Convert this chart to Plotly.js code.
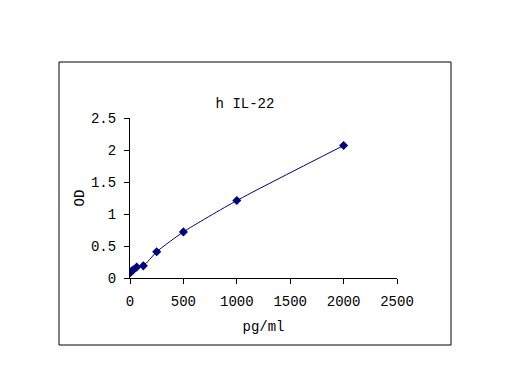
<!DOCTYPE html>
<html><head><meta charset="utf-8">
<script src="https://cdn.plot.ly/plotly-3.0.1.min.js"></script>
<style>html,body{margin:0;padding:0;background:#fff;}#c{width:512px;height:384px;}</style>
</head><body><div id="c"></div>
<script>
const concentration = [0, 15.6, 31.25, 62.5, 125, 250, 500, 1000, 2000];
const od = [0.08, 0.11, 0.13, 0.17, 0.19, 0.41, 0.72, 1.21, 2.07];
const xTicks = [0, 500, 1000, 1500, 2000, 2500];
const yTicks = [0, 0.5, 1, 1.5, 2, 2.5];

const fontFam = '"Liberation Mono", "DejaVu Sans Mono", monospace';
const trace = {
  x: concentration, y: od, type: 'scatter', mode: 'lines+markers',
  line: {color: '#000080', width: 1, shape: 'spline', smoothing: 0.6},
  marker: {symbol: 'diamond', size: 7, color: '#000080'},
  hoverinfo: 'none'
};
const layout = {
  width: 512, height: 384,
  margin: {l: 130, r: 115, t: 118, b: 106},
  paper_bgcolor: '#fff', plot_bgcolor: '#fff',
  showlegend: false,
  font: {family: fontFam, size: 14, color: '#000'},
  title: {text: 'h IL-22', x: 245/512, xref: 'container', xanchor: 'center', y: 1-103/384, yref: 'container', yanchor: 'middle', font: {family: fontFam, size: 14, color: '#000'}},
  xaxis: {range: [0, 2500], tickvals: xTicks, ticktext: xTicks.map(String), showgrid: false, zeroline: false,
    showline: true, linecolor: '#000', linewidth: 1, ticks: 'outside', ticklen: 5, tickcolor: '#000',
    ticklabelstandoff: 5,
    title: {text: 'pg/ml', standoff: 12, font: {family: fontFam, size: 14}}},
  yaxis: {range: [0, 2.5], tickvals: yTicks, ticktext: yTicks.map(String), showgrid: false, zeroline: false,
    showline: true, linecolor: '#000', linewidth: 1, ticks: 'outside', ticklen: 5, tickcolor: '#000',
    ticklabelstandoff: 5,
    title: {text: 'OD', standoff: 3, font: {family: fontFam, size: 14}}},
  shapes: [{type: 'rect', xref: 'paper', yref: 'paper',
    x0: (59-130)/267, x1: (451-130)/267, y0: (278-345)/160, y1: (278-62)/160,
    line: {color: '#000', width: 1}, fillcolor: 'rgba(0,0,0,0)', layer: 'below'}]
};
Plotly.newPlot('c', [trace], layout, {displayModeBar: false, staticPlot: true});
</script></body></html>
